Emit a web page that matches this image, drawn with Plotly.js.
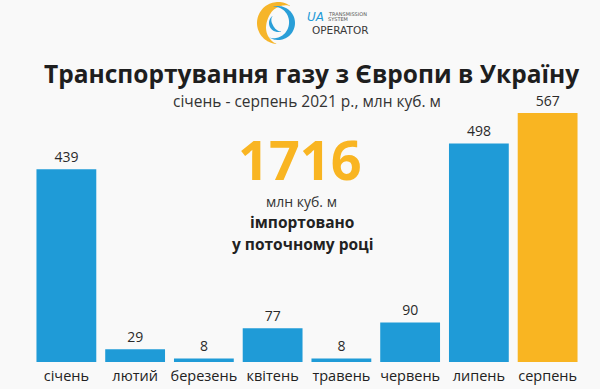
<!DOCTYPE html>
<html><head><meta charset="utf-8">
<script src="https://cdn.plot.ly/plotly-3.0.1.min.js"></script>
<style>html,body{margin:0;padding:0;background:#f9f9f9}#c{width:600px;height:389px}</style>
</head><body><div id="c"></div>
<script>
const months = ['січень','лютий','березень','квітень','травень','червень','липень','серпень'];
const volumes = [439, 29, 8, 77, 8, 90, 498, 567];
const totalImported = '1716';
const titleText = 'Транспортування газу з Європи в Україну';
const subtitleText = 'січень - серпень 2021 р., млн куб. м';

const blue = '#1f9bd7', yellow = '#f9b522', dark = '#2a2a2a';
const colors = months.map((m,i)=> i===months.length-1 ? yellow : blue);

const L=32, R=18, T=40, B=27, W=600, H=389;
const pw=W-L-R, ph=H-T-B;
const px = x => (x-L)/pw;
const py = y => (H-B-y)/ph;

function taperPath(rOut, wMax, a0, a1, n){
  let outer=[], inner=[];
  for(let i=0;i<=n;i++){
    const t=i/n, a=(a0+(a1-a0)*t)*Math.PI/180;
    const w=Math.max(0.4, wMax*Math.sin(Math.PI*t));
    outer.push([rOut*Math.cos(a), rOut*Math.sin(a)]);
    inner.push([(rOut-w)*Math.cos(a), (rOut-w)*Math.sin(a)]);
  }
  const pts=outer.concat(inner.reverse());
  return 'M'+pts.map(p=>p[0].toFixed(2)+','+p[1].toFixed(2)).join(' L')+' Z';
}
const lx = px(278), ly = py(23);
const logo = (path, color) => ({type:'path', xref:'paper', yref:'paper', xsizemode:'pixel', ysizemode:'pixel',
  xanchor:lx, yanchor:ly, path, fillcolor:color, line:{width:0}, layer:'above'});
const logoShapes = [
  logo(taperPath(21, 10, 55, 265, 50), '#f6b52a'),
  logo(taperPath(17, 6, 105, -120, 50), '#2a9fd8'),
  logo(taperPath(9, 3.5, 130, 290, 30), '#2a9fd8')
];

const ann = (x,y,text,size,opts={}) => Object.assign({xref:'paper',yref:'paper',x:px(x),y:py(y),text,showarrow:false,
  xanchor:'center',yanchor:'middle',font:{family:'Open Sans',size,color:dark}},opts);

const annotations = [
  ann(311,73,'<b>'+titleText+'</b>',24.5,{font:{family:'Open Sans',size:24.5,color:'#1e1e1e'}}),
  ann(307,101,subtitleText,15.5,{font:{family:'Open Sans',size:15.5,color:'#333'}}),
  ann(300,159,'<b>'+totalImported+'</b>',54,{font:{family:'Open Sans',size:54,color:yellow,weight:800}}),
  ann(301,201.5,'млн куб. м',14,{font:{family:'Open Sans',size:14,color:'#333'}}),
  ann(302,222,'<b>імпортовано</b>',15.5,{font:{family:'Open Sans',size:15.5,color:'#222'}}),
  ann(302,244,'<b>у поточному році</b>',15.5,{font:{family:'Open Sans',size:15.5,color:'#222'}}),
  ann(315,17,'<i>UA</i>',12,{font:{family:'DejaVu Sans',size:12,color:blue}}),
  ann(326,14.5,'TRANSMISSION',5,{xanchor:'left',font:{family:'DejaVu Sans',size:5,color:'#555'}}),
  ann(326,19.5,'SYSTEM',5,{xanchor:'left',font:{family:'DejaVu Sans',size:5,color:'#555'}}),
  ann(340,29.5,'OPERATOR',10.5,{font:{family:'DejaVu Sans',size:10.5,color:'#3a3a3a'}})
];

Plotly.newPlot('c',[{
  type:'bar', x:months, y:volumes, marker:{color:colors},
  text:volumes.map(String), textposition:'outside', cliponaxis:false,
  textfont:{family:'Open Sans',size:14,color:'#2a2a2a'}, hoverinfo:'none'
}],{
  width:W, height:H, margin:{l:L,r:R,t:T,b:B,pad:0},
  paper_bgcolor:'#f9f9f9', plot_bgcolor:'#f9f9f9', showlegend:false, bargap:0.13,
  xaxis:{showgrid:false, zeroline:false, showline:false, ticks:'', automargin:false, ticklabelstandoff:3,
         tickfont:{family:'Open Sans',size:14.5,color:'#222'}, fixedrange:true},
  yaxis:{range:[0, ph/0.439], visible:false, fixedrange:true},
  annotations, shapes:logoShapes
},{displayModeBar:false, staticPlot:true});
</script></body></html>
